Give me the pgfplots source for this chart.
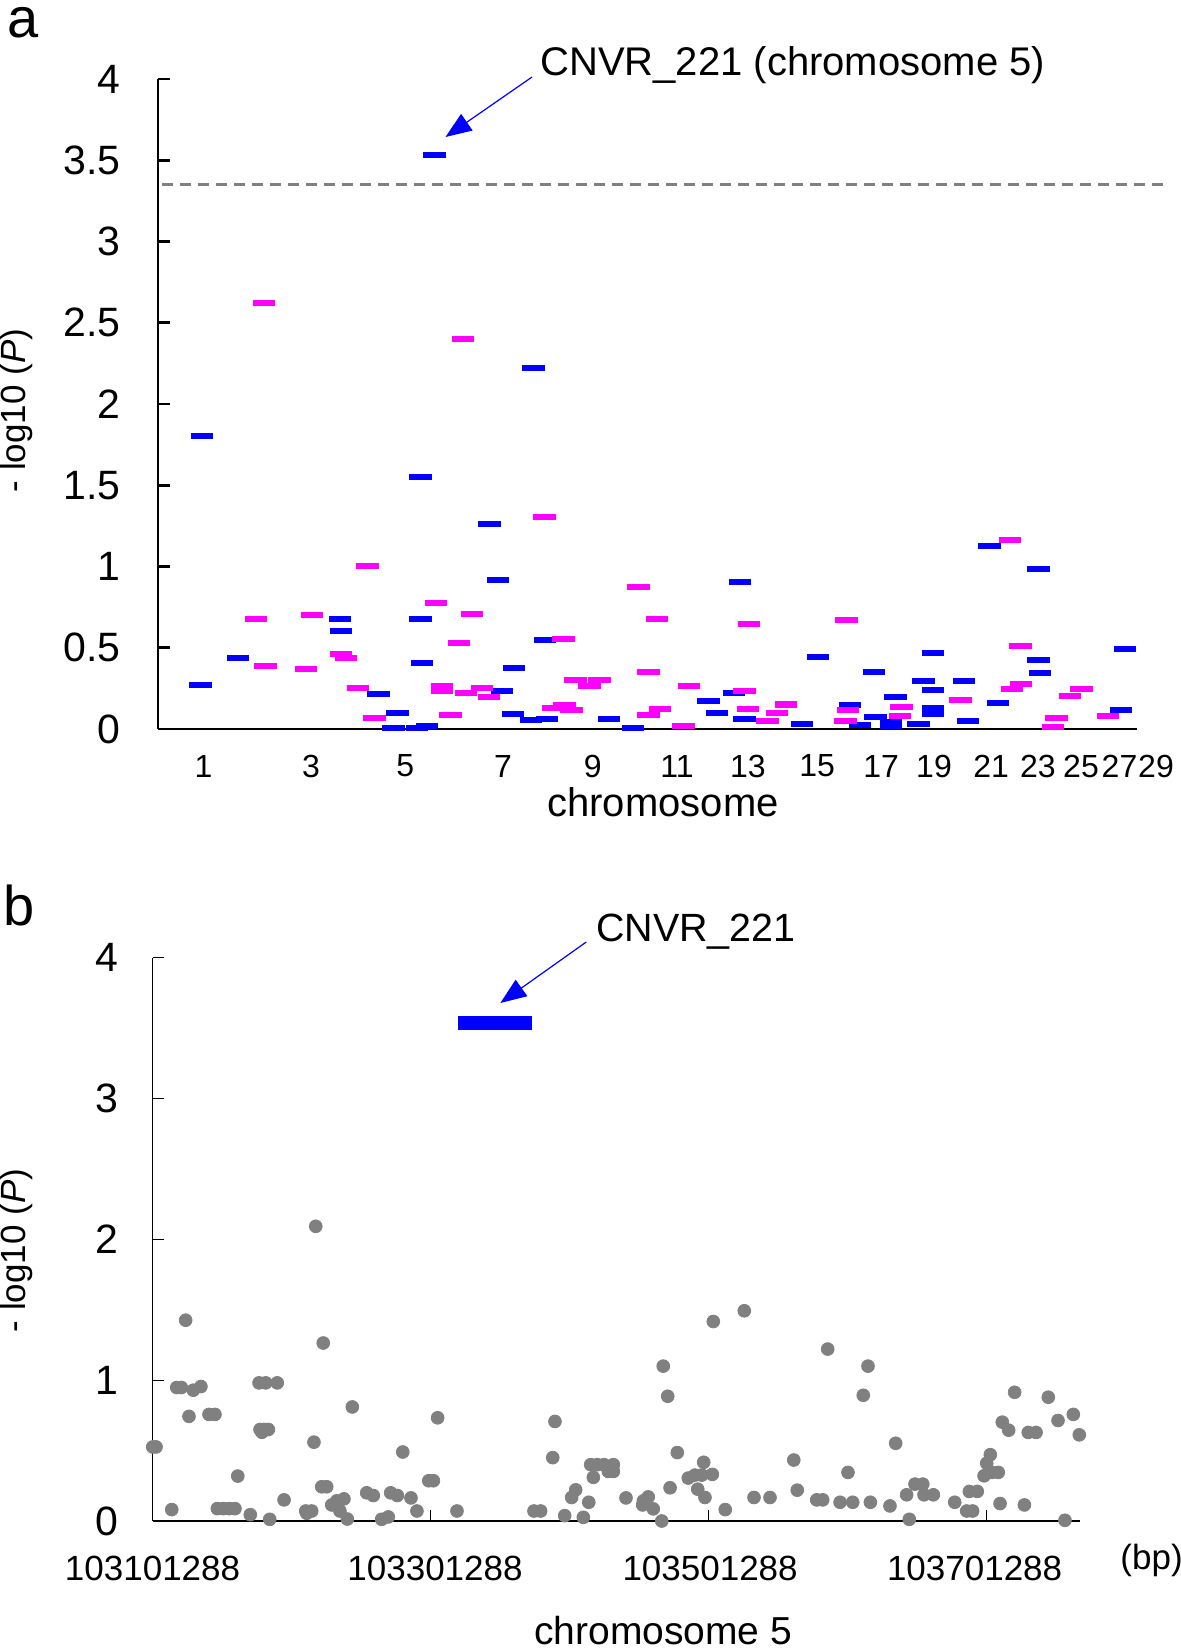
\documentclass[border=0pt]{standalone}
\usepackage{pgfplots}
\pgfplotsset{compat=1.18}
\usepackage{pgfplotstable}
\usepackage{fontspec}
\setmainfont{Liberation Sans}
\usetikzlibrary{arrows.meta}
\newcommand\fs[1]{\fontsize{#1}{#1}\selectfont}
\definecolor{cnvblue}{RGB}{0,0,255}
\definecolor{cnvmag}{RGB}{255,0,255}
\definecolor{snpgray}{RGB}{128,128,128}

% panel a: x = position along the genome (chart units), y = -log10(P)
\pgfplotstableread{
x v
200.7 0.273
202 1.806
238 0.434
340 0.674
341 0.60
378.3 0.213
397.3 0.10
393.3 0.004
417 0.004
426.7 0.021
420.3 0.674
421.7 0.407
420.3 1.548
434.3 3.535
489.5 1.259
498 0.915
501.7 0.233
514 0.376
512.7 0.093
530.7 0.056
533.5 2.219
545 0.547
546.7 0.062
608.7 0.062
632.7 0.004
708.3 0.174
716.7 0.099
733.7 0.221
739.7 0.903
744.3 0.062
802 0.033
817.7 0.442
850 0.145
859.7 0.025
874 0.353
875.3 0.076
890.7 0.045
890.7 0.021
895.3 0.195
918.3 0.033
923.3 0.293
932.7 0.470
932.7 0.241
932.7 0.130
932.7 0.093
964 0.293
967.7 0.047
989.3 1.124
997.7 0.159
1038.3 0.984
1038.3 0.427
1039.7 0.344
1121 0.115
1124.7 0.493
}\bluebars

\pgfplotstableread{
x v
256 0.674
264.2 2.62
265.7 0.39
306.3 0.37
312.3 0.70
341 0.459
346 0.436
358 0.25
367.7 1.004
374.7 0.07
436 0.776
442 0.267
442 0.233
450.3 0.087
458.7 0.530
462.9 2.397
465.7 0.221
471.7 0.708
481.7 0.25
488.7 0.198
544.4 1.306
553.3 0.13
563.3 0.553
564.3 0.149
571.3 0.116
575.3 0.302
589.3 0.264
599.3 0.302
638.5 0.871
648.3 0.353
648.3 0.087
657 0.674
660 0.124
683.3 0.017
689 0.264
744.3 0.233
748 0.122
749 0.648
767.3 0.05
776.7 0.101
785.7 0.155
785.7 0.145
845.3 0.05
846.3 0.671
847.7 0.116
901.5 0.136
900 0.078
960.3 0.181
1009.7 1.163
1012 0.247
1020.3 0.509
1020.7 0.278
1052.7 0.010
1056.3 0.070
1069.7 0.204
1081.3 0.249
1108 0.078
}\magentabars

% panel b: x = kb from 103101288, y = -log10(P)
\pgfplotstableread{
kb v
23.7 1.426
17.3 0.948
20.6 0.948
29.2 0.929
34.7 0.955
26.1 0.743
40.5 0.757
44.8 0.757
0.0 0.526
2.4 0.526
13.7 0.081
46.5 0.088
50.8 0.088
55.1 0.088
59.2 0.088
61.2 0.319
70.2 0.045
84.2 0.012
76.5 0.981
81.3 0.981
89.6 0.981
77.2 0.65
80.1 0.65
83.2 0.65
78.6 0.63
94.5 0.15
116.0 0.56
117.3 2.093
122.7 1.264
110.1 0.071
114.4 0.071
110.8 0.055
121.6 0.243
125.2 0.243
143.6 0.81
128.8 0.114
132.4 0.143
137.6 0.157
134.7 0.071
140.0 0.014
154.0 0.20
158.7 0.181
164.7 0.012
169.5 0.029
171.2 0.20
176.0 0.181
179.9 0.49
185.8 0.164
190.1 0.071
198.6 0.286
201.9 0.286
205.0 0.733
218.9 0.071
274.3 0.071
279.1 0.071
289.4 0.707
287.8 0.45
296.4 0.038
301.4 0.167
304.3 0.221
309.8 0.026
313.7 0.133
315.1 0.40
319.9 0.40
324.7 0.40
331.4 0.40
317.0 0.31
327.8 0.352
331.4 0.352
340.5 0.164
353.0 0.143
356.5 0.171
352.5 0.114
360.1 0.086
366.2 0.0
367.3 1.10
370.5 0.886
372.2 0.236
377.4 0.486
385.3 0.305
390.1 0.326
395.0 0.326
402.6 0.331
392.1 0.226
397.3 0.167
396.4 0.417
403.3 1.417
411.9 0.081
425.6 1.493
432.6 0.167
444.1 0.167
461.2 0.433
463.7 0.219
477.7 0.15
482.0 0.15
485.6 1.221
494.5 0.133
503.6 0.133
500.2 0.345
511.2 0.893
514.6 1.10
516.3 0.133
530.4 0.107
534.5 0.552
542.4 0.186
544.3 0.012
548.4 0.262
554.0 0.262
554.9 0.186
561.6 0.186
577.0 0.133
585.6 0.071
589.9 0.071
587.5 0.21
593.2 0.21
598.1 0.321
603.6 0.345
608.3 0.345
600.0 0.41
602.6 0.471
609.6 0.124
611.2 0.702
615.8 0.645
620.1 0.914
629.9 0.629
635.5 0.629
627.1 0.114
644.3 0.879
651.3 0.714
656.3 0.005
662.3 0.757
666.6 0.612
}\snps

\begin{document}
\begin{tikzpicture}
\path[use as bounding box] (0,0) rectangle (590.5pt,825pt);

% ---------------- panel a ----------------
\begin{axis}[
  at={(79pt,460.5pt)}, anchor=south west,
  x=0.5pt, y=81.25pt,
  xmin=158, xmax=1137, ymin=0, ymax=4,
  axis lines*=left,
  axis line style={line width=1.4pt, black},
  clip=false,
  tick align=inside,
  major tick length=6pt,
  tick style={line width=1.4pt, black},
  ytick={0,0.5,1,1.5,2,2.5,3,3.5,4},
  xtick={203.4,311,405.2,503,592.8,677,747.9,817.2,881.2,934,991.2,1037.9,1081,1119.5},
  xticklabels={1,3,5,7,9,11,13,15,17,19,21,23,25,27},
  xtick style={draw=none},
  /pgf/number format/assume math mode=true,
  yticklabel style={font=\fs{20.5}, anchor=east, inner sep=0pt, xshift=-18.5pt},
  xticklabel style={font=\fs{16}, anchor=center, inner sep=0pt, yshift=-18.5pt},
]
\addplot[snpgray, line width=1.3pt, dash pattern=on 5.5pt off 3.5pt] coordinates {(162,3.35) (1166,3.35)};
\addplot[only marks, mark=-, mark size=5.6pt, color=cnvblue, mark options={line width=3pt}] table[x=x, y=v] {\bluebars};
\addplot[only marks, mark=-, mark size=5.6pt, color=cnvmag, mark options={line width=3pt}] table[x=x, y=v] {\magentabars};
\node[anchor=center, inner sep=0pt, font=\fs{16}] at (axis cs:1156,-0.228) {29};
\node[anchor=center, inner sep=0pt, font=\fs{20}] at (axis cs:663,-0.449) {chromosome};
\node[anchor=center, inner sep=0pt, rotate=90, font=\fs{17.5}] at (axis cs:16,1.96) {- log10 (\textit{P})};
\node[anchor=center, inner sep=0pt, font=\fs{28}] at (axis cs:23.2,4.345) {a};
\draw[cnvblue, line width=0.6pt, -{Triangle[length=13pt,width=10pt]}] (axis cs:532,4.012) -- (axis cs:445.5,3.643);
\node[anchor=west, inner sep=0pt, font=\fs{20}] at (axis cs:540,4.086) {CNVR\_221 (chromosome 5)};
\end{axis}

% ---------------- panel b ----------------
\begin{axis}[
  at={(76.35pt,64.5pt)}, anchor=south west,
  x=0.695pt, y=70.4pt,
  xmin=0, xmax=667, ymin=0, ymax=4,
  axis lines*=left,
  axis line style={line width=0.7pt, black},
  clip=false,
  tick align=inside,
  major tick length=5.5pt,
  tick style={line width=0.7pt, black},
  ytick={0,1,2,3,4},
  xtick={0,200,400,600},
  xticklabels={},
  /pgf/number format/assume math mode=true,
  yticklabel style={font=\fs{20.5}, anchor=east, inner sep=0pt, xshift=-16.9pt},
]
\addplot[only marks, mark=*, mark size=3.2pt, color=snpgray, mark options={draw=snpgray, fill=snpgray}] table[x=kb, y=v] {\snps};
\addplot[cnvblue, line width=7.4pt] coordinates {(219.6,3.537) (272.6,3.537)};
\draw[cnvblue, line width=0.6pt, -{Triangle[length=13pt,width=10pt]}] (axis cs:311.9,4.112) -- (axis cs:250.1,3.679);
\node[anchor=west, inner sep=0pt, font=\fs{19.7}] at (axis cs:318.8,4.186) {CNVR\_221};
\node[anchor=center, inner sep=0pt, font=\fs{17.5}] at (axis cs:-0.1,-0.337) {103101288};
\node[anchor=center, inner sep=0pt, font=\fs{17.5}] at (axis cs:203.1,-0.337) {103301288};
\node[anchor=center, inner sep=0pt, font=\fs{17.5}] at (axis cs:401,-0.337) {103501288};
\node[anchor=center, inner sep=0pt, font=\fs{17.5}] at (axis cs:591.3,-0.337) {103701288};
\node[anchor=center, inner sep=0pt, font=\fs{17.5}] at (axis cs:718.6,-0.277) {(bp)};
\node[anchor=center, inner sep=0pt, font=\fs{19.5}] at (axis cs:367.3,-0.781) {chromosome 5};
\node[anchor=center, inner sep=0pt, rotate=90, font=\fs{17.5}] at (axis cs:-98.3,1.921) {- log10 (\textit{P})};
\node[anchor=center, inner sep=0pt, font=\fs{28}] at (axis cs:-96.2,4.373) {b};
\end{axis}
\end{tikzpicture}
\end{document}
